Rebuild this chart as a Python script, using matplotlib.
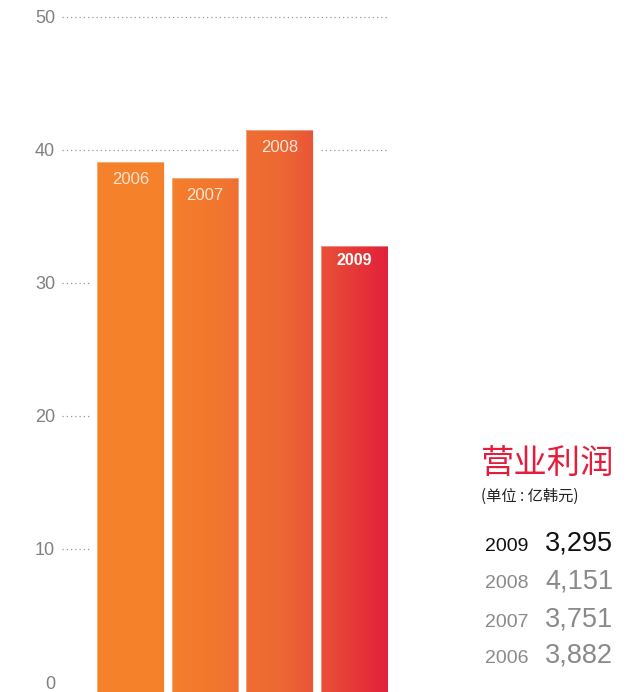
import numpy as np
import matplotlib
matplotlib.use('Agg')
import matplotlib.pyplot as plt
from matplotlib.colors import LinearSegmentedColormap

plt.rcParams['font.family'] = ['Liberation Sans', 'Noto Sans CJK SC', 'DejaVu Sans']

## data
years = ['2006', '2007', '2008', '2009']
bar_values = [39.1, 37.9, 41.5, 32.8]          # 营业利润
profit_labels = ['3,882', '3,751', '4,151', '3,295']
y_ticks = [0, 10, 20, 30, 40, 50]
title = '营业利润'
unit_text = '(单位 : 亿韩元)'

## style
W, H, DPI = 642, 692, 100
bar_w = 0.893
pad = 0.107
grid_col = '#9a9a9a'
tick_col = '#808080'
red = '#e31e3c'

grad = LinearSegmentedColormap.from_list('og', [
    (0.00, '#f5822b'),
    (0.22, '#f5812b'),
    (0.40, '#f2772f'),
    (0.50, '#ef6e32'),
    (0.63, '#ed6833'),
    (0.75, '#e95438'),
    (0.80, '#e94b37'),
    (1.00, '#e2213a'),
])

fig = plt.figure(figsize=(W / DPI, H / DPI), dpi=DPI)
ax = fig.add_axes([62 / W, 0, 326 / W, 1])

x = np.arange(len(years))
xmin, xmax = -0.913, 3.447
ymin, ymax = -0.75, 51.27
g0 = x[0] - bar_w / 2
g1 = x[-1] + bar_w / 2
gtop = max(bar_values) + 2

# bars: one gradient image over the whole group, clipped to each bar
t = np.linspace(0, 1, 600)
t = np.vstack([t, t])
for xi, h, yr in zip(x, bar_values, years):
    l = xi - bar_w / 2
    rect = plt.Rectangle((l, ymin), bar_w, h - ymin, facecolor='none',
                         edgecolor='#fbd9c4', alpha=0.5, lw=0.7, zorder=3)
    ax.add_patch(rect)
    im = ax.imshow(t, cmap=grad, vmin=0, vmax=1, extent=(g0, g1, ymin - 1, gtop),
                   aspect='auto', zorder=2, interpolation='nearest')
    im.set_clip_path(rect)
    if yr == '2009':
        ax.text(xi, h - 1.15, yr, ha='center', va='center', color='white',
                fontsize=11.5, fontweight='bold', zorder=4)
    else:
        ax.text(xi, h - 1.3, yr, ha='center', va='center', color='#fde6d6',
                fontsize=12, zorder=4)

# dotted guide lines, broken around bars that rise above them
for lv in y_ticks[1:]:
    segs = [[xmin, xmax]]
    for xi, h in zip(x, bar_values):
        if h > lv:
            a, b = xi - bar_w / 2 - pad, xi + bar_w / 2 + pad
            new = []
            for s0, s1 in segs:
                if b <= s0 or a >= s1:
                    new.append([s0, s1])
                else:
                    if a > s0:
                        new.append([s0, a])
                    if b < s1:
                        new.append([b, s1])
            segs = new
    for s0, s1 in segs:
        ax.plot([s0, s1], [lv, lv], color=grid_col, lw=0.9,
                dashes=(1, 2.4), zorder=1, solid_capstyle='butt')

ax.set_xlim(xmin, xmax)
ax.set_ylim(ymin, ymax)
ax.set_yticks(y_ticks)
ax.set_yticklabels([str(v) for v in y_ticks], color=tick_col, fontsize=13)
ax.tick_params(axis='y', length=0, pad=5)
ax.set_xticks([])
for sp in ax.spines.values():
    sp.set_visible(False)
ax.patch.set_alpha(0)

# side legend text
def fx(px):
    return px / W

def fy(py):
    return 1 - py / H

fig.text(fx(481), fy(463), title, color=red, fontsize=24, va='center', ha='left',
         family=['Noto Sans CJK SC', 'DejaVu Sans'])
fig.text(fx(481), fy(496), unit_text, color='#222222', fontsize=11, va='center', ha='left',
         family=['Noto Sans CJK SC', 'DejaVu Sans'])

row_base = [663, 627, 588, 551]   # baseline px for 2006..2009
for yr, val, by in zip(years, profit_labels, row_base):
    col = '#111111' if yr == '2009' else '#8a8a8a'
    fig.text(fx(485), fy(by), yr, color=col, fontsize=14, va='baseline', ha='left')
    fig.text(fx(545), fy(by), val, color=col, fontsize=19.5, va='baseline', ha='left')

fig.savefig('out.png', dpi=DPI)
